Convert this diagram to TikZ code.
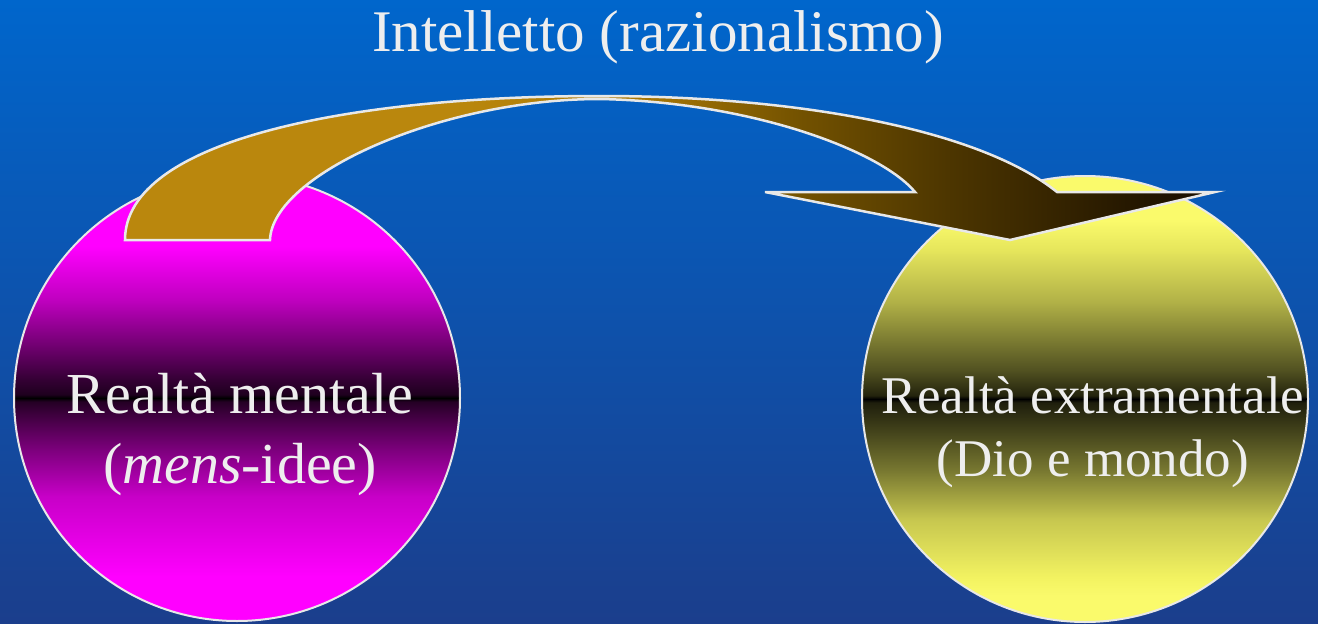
\documentclass[tikz,border=0pt]{standalone}
\usepackage{fontspec}
\setmainfont{Liberation Serif}
\definecolor{bgtop}{RGB}{0,102,204}
\definecolor{bgbot}{RGB}{27,62,140}
\definecolor{linec}{RGB}{232,232,232}
\definecolor{txt}{RGB}{238,238,238}
\pgfdeclareverticalshading{magball}{100bp}{
rgb(0bp)=(1,0,1); rgb(30bp)=(1,0,1); rgb(39bp)=(0.78,0,0.78); rgb(44bp)=(0.5,0,0.5);
rgb(48.5bp)=(0.22,0,0.22); rgb(49.6bp)=(0.14,0,0.14); rgb(50bp)=(0,0,0);
rgb(50.4bp)=(0.12,0,0.12); rgb(52bp)=(0.2,0,0.2); rgb(56bp)=(0.45,0,0.45);
rgb(61bp)=(0.75,0,0.75); rgb(67bp)=(1,0,1); rgb(100bp)=(1,0,1)}
\pgfdeclareverticalshading{yelball}{100bp}{
rgb(0bp)=(0.98,0.98,0.42); rgb(28bp)=(0.98,0.98,0.42); rgb(30bp)=(0.95,0.95,0.38);
rgb(36.5bp)=(0.78,0.78,0.31); rgb(42bp)=(0.47,0.47,0.19); rgb(47.75bp)=(0.2,0.2,0.08);
rgb(49.6bp)=(0.12,0.12,0.05); rgb(50bp)=(0,0,0); rgb(50.4bp)=(0.14,0.14,0.05);
rgb(53.25bp)=(0.32,0.32,0.13); rgb(61bp)=(0.7,0.7,0.28); rgb(66.7bp)=(0.9,0.9,0.36);
rgb(70bp)=(0.98,0.98,0.42); rgb(100bp)=(0.98,0.98,0.42)}
\pgfdeclarehorizontalshading{arrowsh}{100bp}{
rgb(0bp)=(0.73,0.53,0.05); rgb(40bp)=(0.73,0.53,0.05); rgb(48.6bp)=(0.66,0.47,0.02);
rgb(56bp)=(0.45,0.32,0.0); rgb(62.8bp)=(0.30,0.21,0.0); rgb(72bp)=(0.13,0.08,0.0);
rgb(75bp)=(0.1,0.06,0.0); rgb(100bp)=(0.1,0.06,0.0)}
\tikzset{
  ball/.style={circle, draw=linec, line width=2pt, minimum size=446pt, inner sep=0pt},
  titletext/.style={text=txt, anchor=base, inner sep=0pt, font=\fontsize{59}{70}\selectfont},
  bigtext/.style={text=txt, anchor=base, inner sep=0pt, font=\fontsize{58}{70}\selectfont},
  smalltext/.style={text=txt, anchor=base, inner sep=0pt, font=\fontsize{53}{64}\selectfont}
}
\begin{document}
\begin{tikzpicture}[x=1pt,y=-1pt]
\useasboundingbox (0,0) rectangle (1318,624);
\fill[top color=bgtop, bottom color=bgbot] (0,0) rectangle (1318,624);
% circles
\node[ball, shade, shading=magball] (L) at (237,398) {};
\node[ball, shade, shading=yelball] (R) at (1085,399) {};
% curved arrow
\coordinate (a1) at (125,240);
\coordinate (a2) at (600,96);
\coordinate (a3) at (1057,192);
\coordinate (a4) at (1215,192);
\coordinate (tip) at (1010,240);
\coordinate (a5) at (765,192);
\coordinate (a6) at (915,192);
\coordinate (a7) at (600,99);
\coordinate (a8) at (270,240);
\shadedraw[shading=arrowsh, draw=linec, line width=2.5pt, line join=miter]
  (a1) .. controls (125,140) and (350,96) .. (a2)
  .. controls (800,96) and (980,130) .. (a3)
  -- (a4) -- (tip) -- (a5) -- (a6)
  .. controls (880,150) and (750,102) .. (a7)
  .. controls (440,99) and (272,175) .. (a8) -- cycle;
% texts
\node[titletext] (title) at (658,51) {Intelletto (razionalismo)};
\node[bigtext] (L1) at (240,413) {Realtà mentale};
\node[bigtext] (L2) at (240,483) {(\textit{mens}-idee)};
\node[smalltext] (R1) at (1093,413) {Realtà extramentale};
\node[smalltext] (R2) at (1093,476) {(Dio e mondo)};
\end{tikzpicture}
\end{document}
